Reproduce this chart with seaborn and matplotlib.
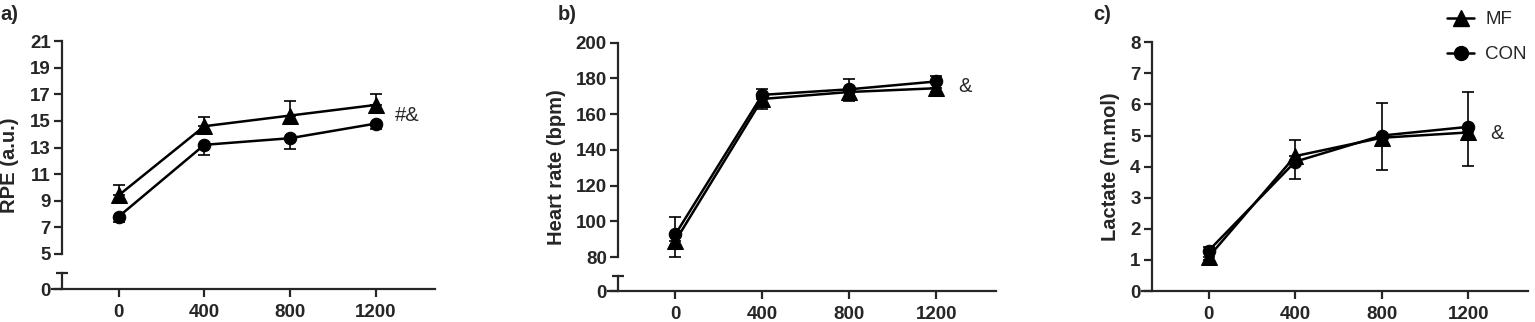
import numpy as np
import pandas as pd
import matplotlib
matplotlib.use("Agg")
import matplotlib.pyplot as plt
from matplotlib.lines import Line2D
import seaborn as sns

# ---------------- data ----------------
distance = [0, 400, 800, 1200]
groups = ["MF", "CON"]

rpe_mf = [9.4, 14.6, 15.4, 16.2]
rpe_mf_sd = [0.8, 0.7, 1.1, 0.8]
rpe_con = [7.8, 13.2, 13.7, 14.8]
rpe_con_sd = [0.4, 0.8, 0.85, 0.4]

hr_mf = [89.0, 168.5, 172.4, 174.5]
hr_mf_sd = [9.0, 5.5, 5.0, 2.0]
hr_con = [92.7, 170.8, 173.9, 178.3]
hr_con_sd = [9.5, 3.2, 6.0, 3.3]

lac_mf = [1.1, 4.34, 4.93, 5.1]
lac_mf_sd = [0.1, 0.74, 1.05, 1.07]
lac_con = [1.3, 4.16, 5.0, 5.28]
lac_con_sd = [0.1, 0.7, 1.06, 1.12]

panel_letters = ["a)", "b)", "c)"]
ylabels = ["RPE (a.u.)", "Heart rate (bpm)", "Lactate (m.mol)"]
annotations = ["#&", "&", "&"]

# ---------------- style ----------------
sns.set_style("ticks")
plt.rcParams["font.family"] = ["Liberation Sans", "DejaVu Sans"]
plt.rcParams["axes.linewidth"] = 1.6
plt.rcParams["xtick.major.width"] = 1.6
plt.rcParams["ytick.major.width"] = 1.6
plt.rcParams["ytick.minor.width"] = 1.6
plt.rcParams["xtick.major.size"] = 6
plt.rcParams["ytick.major.size"] = 6

W, H = 1535, 322
fig = plt.figure(figsize=(W / 100, H / 100), dpi=100)

markers = {"MF": "^", "CON": "o"}
msizes = {"MF": 11, "CON": 9}
TICKFONT = dict(fontsize=13.5, fontweight="bold")
XLIM = (-310, 1475)
SPINE_POS = 0.026


def px_axes(x0, x1, ytop, ybot):
    return fig.add_axes([x0 / W, 1 - ybot / H, (x1 - x0) / W, (ybot - ytop) / H])


def make_df(mf, con):
    return pd.DataFrame({
        "distance": distance * 2,
        "value": list(mf) + list(con),
        "group": ["MF"] * len(distance) + ["CON"] * len(distance),
    })


def draw(ax, mf, mf_sd, con, con_sd, mf_up):
    df = make_df(mf, con)
    z = np.zeros(len(distance))
    ekw = dict(fmt="none", ecolor="black", elinewidth=1.2, capsize=4.5,
               capthick=1.2, zorder=1)
    if mf_up:
        ax.errorbar(distance, mf, yerr=[z, mf_sd], **ekw)
        ax.errorbar(distance, con, yerr=[con_sd, z], **ekw)
    else:
        ax.errorbar(distance, mf, yerr=[mf_sd, z], **ekw)
        ax.errorbar(distance, con, yerr=[z, con_sd], **ekw)
    for g in groups:
        sub = df[df["group"] == g]
        sns.lineplot(data=sub, x="distance", y="value", color="black",
                     marker=markers[g], markersize=msizes[g], markeredgecolor="black",
                     linewidth=1.8, ax=ax, legend=False, zorder=3)
    ax.set_xlabel("")
    ax.set_ylabel("")


def base_style(ax):
    for s in ("top", "right"):
        ax.spines[s].set_visible(False)
    ax.spines["left"].set_position(("axes", SPINE_POS))
    ax.set_xlim(*XLIM)
    ax.patch.set_alpha(0)


def style_top(ax, ylim, yticks):
    base_style(ax)
    ax.spines["bottom"].set_visible(False)
    ax.set_ylim(*ylim)
    ax.set_yticks(yticks)
    ax.set_yticklabels([str(t) for t in yticks], **TICKFONT)
    ax.set_yticks([ylim[0]], minor=True)
    ax.set_xticks([])
    ax.tick_params(axis="y", which="major", direction="out", length=6, pad=2)
    ax.tick_params(axis="y", which="minor", direction="inout", length=8)


def style_x(ax):
    ax.set_xticks(distance)
    ax.set_xticklabels([str(d) for d in distance], **TICKFONT)
    ax.tick_params(axis="x", direction="out", length=6, pad=5)


def style_bottom(ax):
    base_style(ax)
    ax.set_ylim(0, 1)
    ax.set_yticks([0])
    ax.set_yticklabels(["0"], **TICKFONT)
    ax.set_yticks([1], minor=True)
    ax.tick_params(axis="y", which="minor", direction="inout", length=8)
    ax.tick_params(axis="y", which="major", direction="out", length=6, pad=2)
    style_x(ax)


# ---- panel a ----
axa = px_axes(52, 435, 41, 254)
draw(axa, rpe_mf, rpe_mf_sd, rpe_con, rpe_con_sd, mf_up=True)
style_top(axa, (5, 21), list(range(5, 22, 2)))
axa_b = px_axes(52, 435, 273, 289)
style_bottom(axa_b)
axa.text(1290, 15.4, annotations[0], fontsize=14.5, va="center", ha="left")

# ---- panel b ----
axb = px_axes(608, 996, 42.7, 257)
draw(axb, hr_mf, hr_mf_sd, hr_con, hr_con_sd, mf_up=False)
style_top(axb, (80, 200), list(range(80, 201, 20)))
axb_b = px_axes(608, 996, 275.7, 291)
style_bottom(axb_b)
axb.text(1300, 175.7, annotations[1], fontsize=14.5, va="center", ha="left")

# ---- panel c ----
axc = px_axes(1141.7, 1527.7, 42.3, 291)
draw(axc, lac_mf, lac_mf_sd, lac_con, lac_con_sd, mf_up=False)
base_style(axc)
axc.set_ylim(0, 8)
axc.set_yticks(list(range(0, 9)))
axc.set_yticklabels([str(t) for t in range(0, 9)], **TICKFONT)
axc.tick_params(axis="y", direction="out", length=6, pad=2)
style_x(axc)
axc.text(1300, 5.07, annotations[2], fontsize=14.5, va="center", ha="left")

# ---- y labels & panel letters ----
for xpx, ycen, lab in ((10, 165, ylabels[0]), (556, 167, ylabels[1]), (1110, 167, ylabels[2])):
    fig.text(xpx / W, 1 - ycen / H, lab, rotation=90, ha="center", va="center",
             fontsize=14.5, fontweight="bold")
for xpx, lab in ((0, panel_letters[0]), (558, panel_letters[1]), (1093, panel_letters[2])):
    fig.text(xpx / W, 1 - 14 / H, lab, ha="left", va="center", fontsize=14.5, fontweight="bold")

# ---- legend ----
handles = [Line2D([], [], color="black", lw=1.8, marker=markers[g],
                  markersize=msizes[g] + 1) for g in groups]
fig.legend(handles, groups, loc="upper left", bbox_to_anchor=(1447 / W, 1 - 11 / H),
           frameon=False, fontsize=13.5, handlelength=1.45, handletextpad=0.6,
           labelspacing=0.95, borderpad=0, borderaxespad=0)

fig.savefig("out.png", dpi=100)
